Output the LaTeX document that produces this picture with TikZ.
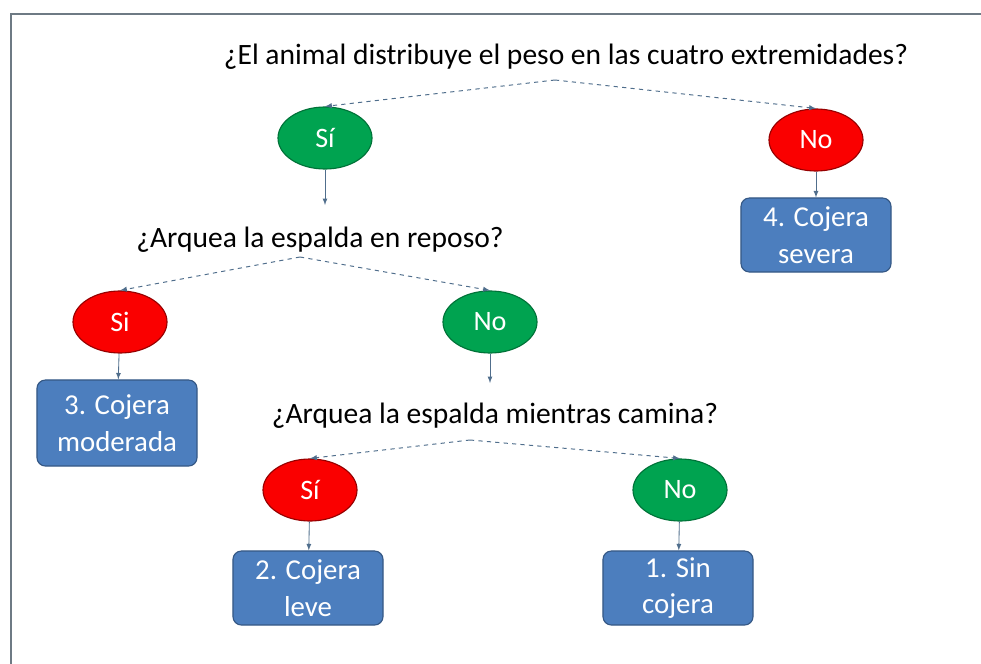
\documentclass[tikz,border=0pt]{standalone}
\usepackage{fontspec}
\setmainfont{Carlito}
\usepackage{tikz}
\usetikzlibrary{arrows,calc,positioning,shapes.geometric}
\definecolor{frame}{RGB}{110,122,132}
\definecolor{link}{RGB}{80,110,140}
\definecolor{sigreen}{RGB}{0,163,80}
\definecolor{nored}{RGB}{250,0,0}
\definecolor{boxblue}{RGB}{76,126,190}
\tikzset{%
	question/.style = {font=\fontsize{21}{24}\selectfont, inner sep=0pt},
	yesno/.style    = {draw, ellipse, minimum width=2.35cm, minimum height=1.55cm, inner sep=0pt, text=white, font=\fontsize{20}{22}\selectfont, line width=0.8pt},
	yes/.style      = {yesno, fill=sigreen, draw=sigreen!70!black},
	no/.style       = {yesno, fill=nored, draw=nored!60!black},
	result/.style   = {draw=boxblue!70!black, fill=boxblue, rectangle, rounded corners=6pt, minimum width=3.75cm, minimum height=1.85cm, text=white, align=center, font=\fontsize{20.5}{26}\selectfont, line width=0.8pt},
	branch/.style   = {dashed, link, line width=0.7pt, -latex},
	arrow/.style    = {link, line width=0.6pt, -latex},
}
\begin{document}
\begin{tikzpicture}[x=0.025cm,y=-0.025cm]
	\useasboundingbox (0,0) rectangle (981,664);
	\draw[frame, line width=2pt] (11,14) rectangle (1000,700);
	
	\node[question] (q1) at (566,57) {¿El animal distribuye el peso en las cuatro extremidades?};
	\coordinate (p1) at (555,80);
	\node[yes] (si1) at (325,138) {Sí};
	\coordinate (e1) at (325,205);
	\node[no] (no1) at (816,140) {No};
	\node[result] (r4) at (816,235) {4. Cojera\\severa};
	
	\node[question] (q2) at (320,240) {¿Arquea la espalda en reposo?};
	\coordinate (p2) at (300,257);
	\node[no] (si2) at (120,322) {Si};
	\node[yes] (no2) at (490,322) {No};
	\coordinate (e2) at (490,383);
	\node[result, minimum width=4cm, minimum height=2.15cm] (r3) at (117,423) {3. Cojera\\moderada};
	
	\node[question] (q3) at (495,416) {¿Arquea la espalda mientras camina?};
	\coordinate (p3) at (470,440);
	\node[no] (si3) at (310,490) {Sí};
	\node[yes] (no3) at (680,490) {No};
	\node[result] (r2) at (308,588) {2. Cojera\\leve};
	\node[result] (r1) at (678,588) {1. Sin\\cojera};
	
	\draw[branch] (p1) -- (si1.north);
	\draw[branch] (p1) -- (no1.north);
	\draw[branch] (p2) -- (si2.north);
	\draw[branch] (p2) -- (no2.north);
	\draw[branch] (p3) -- (si3.north);
	\draw[branch] (p3) -- (no3.north);
	
	\draw[arrow] (si1) -- (e1);
	\draw[arrow] (no1) -- (r4);
	\draw[arrow] (si2) -- (r3);
	\draw[arrow] (no2) -- (e2);
	\draw[arrow] (si3) -- (r2);
	\draw[arrow] (no3) -- (r1);
\end{tikzpicture}
\end{document}
